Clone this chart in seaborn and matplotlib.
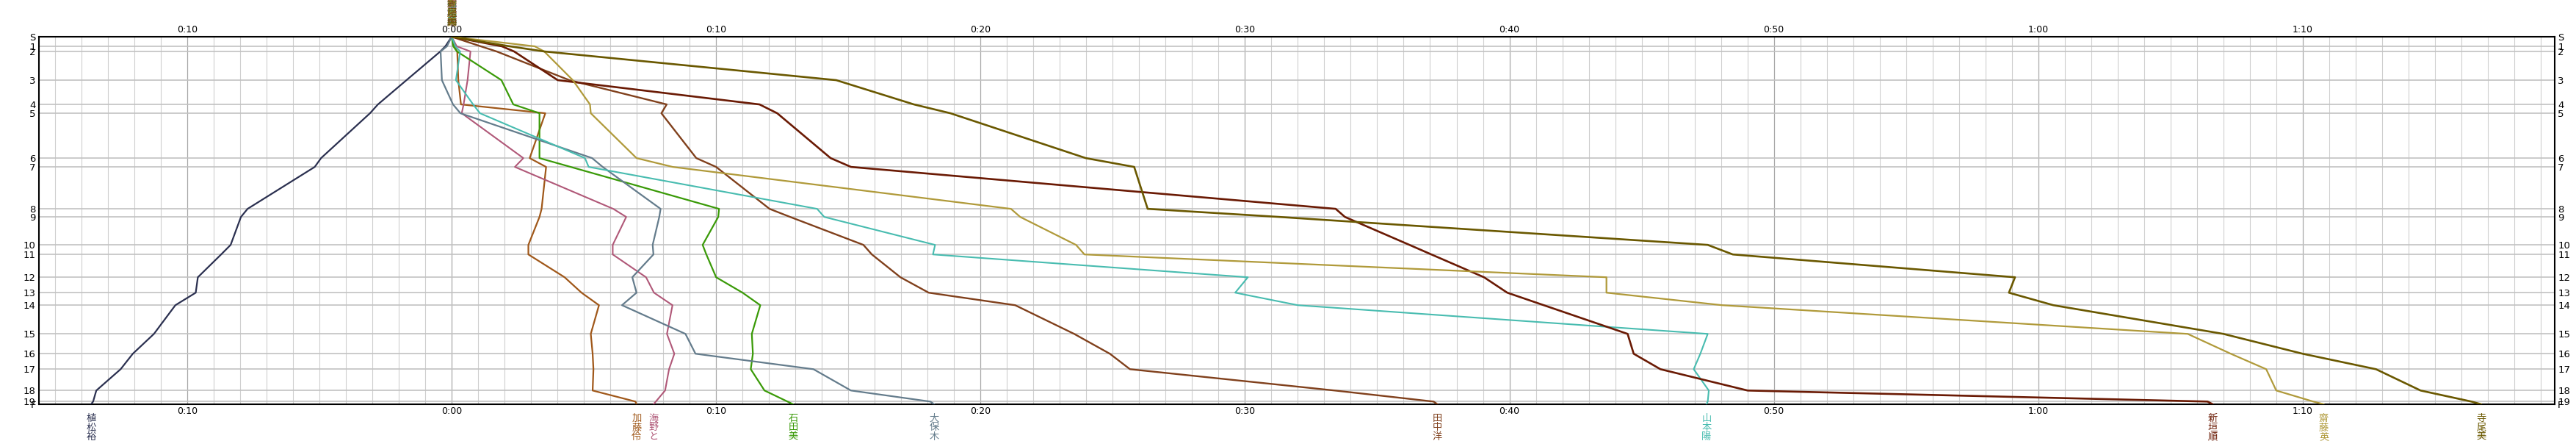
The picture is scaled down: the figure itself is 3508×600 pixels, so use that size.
import matplotlib
matplotlib.use("Agg")
import matplotlib.pyplot as plt
import matplotlib.transforms as mtransforms
import seaborn as sns
import pandas as pd

# ---- data ----
stations = ["S"] + [str(i) for i in range(1, 20)] + ["F"]
control_pos = [0, 39, 60, 177, 276, 312, 495, 531, 702, 735, 849, 888,
               981, 1044, 1095, 1212, 1293, 1356, 1443, 1488, 1499]

runners = ["植松裕", "加藤伶", "海野と", "石田美", "大保木",
           "田中洋", "山本陽", "新垣順", "齋藤英", "寺尾美"]

t_uematsu = [0, -0.24, -0.43, -1.71, -2.79, -3.09, -4.94, -5.18, -7.72, -7.97, -8.36,
             -8.72, -9.60, -9.68, -10.45, -11.26, -12.06, -12.52, -13.44, -13.56, -13.64]
t_kato = [0, 0.10, 0.21, 0.25, 0.35, 3.54, 2.95, 3.57, 3.40, 3.32, 2.90,
          2.90, 4.27, 4.91, 5.57, 5.26, 5.33, 5.36, 5.33, 6.95, 6.99]
t_unno = [0, 0.19, 0.71, 0.60, 0.45, 0.38, 2.71, 2.39, 6.11, 6.60, 6.09,
          6.09, 7.35, 7.65, 8.35, 8.14, 8.42, 8.22, 8.07, 7.72, 7.63]
t_ishida = [0, 0.06, 0.20, 1.88, 2.33, 3.32, 3.32, 4.50, 10.11, 10.08, 9.49,
            9.63, 10.00, 11.00, 11.67, 11.35, 11.39, 11.31, 11.83, 12.70, 12.91]
t_okubo = [0, -0.18, -0.42, -0.37, 0.05, 0.33, 5.31, 5.71, 7.90, 7.85, 7.60,
           7.63, 6.83, 6.99, 6.44, 8.84, 9.22, 13.68, 15.10, 18.10, 18.25]
t_tanaka = [0, 1.10, 1.70, 4.45, 8.13, 7.93, 9.25, 10.00, 12.02, 12.80, 15.57,
            15.89, 16.97, 18.04, 21.31, 23.54, 24.89, 25.65, 33.40, 37.13, 37.28]
t_yamamoto = [0, 0.14, 0.32, 0.16, 0.81, 1.07, 5.04, 5.18, 13.82, 14.09, 18.28,
              18.20, 30.11, 29.63, 32.00, 47.50, 47.22, 46.97, 47.54, 47.50, 47.45]
t_niigaki = [0, 1.90, 2.36, 4.01, 11.64, 12.31, 14.33, 15.10, 33.43, 33.78, 36.22,
             37.05, 39.04, 39.92, 41.30, 44.47, 44.70, 45.71, 49.01, 66.40, 66.60]
t_saito = [0, 3.14, 3.50, 4.58, 5.23, 5.26, 6.99, 8.36, 21.15, 21.50, 23.61,
           23.93, 43.67, 43.67, 48.05, 65.65, 67.28, 68.62, 69.00, 70.40, 70.80]
t_terao = [0, 2.20, 3.50, 14.54, 17.48, 18.86, 23.98, 25.81, 26.32, 31.30, 47.50,
           48.45, 59.12, 58.89, 60.57, 67.00, 70.00, 72.77, 74.46, 76.38, 76.75]

times = [t_uematsu, t_kato, t_unno, t_ishida, t_okubo,
         t_tanaka, t_yamamoto, t_niigaki, t_saito, t_terao]

colors = ["#2b3050", "#a0581a", "#b05878", "#3a9a08", "#647c8c",
          "#80401c", "#48bcb0", "#6a1a04", "#b09a3a", "#6a5800"]
widths = [1.6, 1.6, 1.5, 1.6, 1.6, 1.7, 1.5, 1.9, 1.6, 1.9]

xticks = [-10, 0, 10, 20, 30, 40, 50, 60, 70]

# ---- figure ----
sns.set_theme(style="white")
plt.rcParams["font.family"] = ["DejaVu Sans", "Noto Sans CJK JP"]

fig = plt.figure(figsize=(35.08, 6.0), dpi=100)
ax = fig.add_axes([53 / 3508, 50 / 600, (3479 - 53) / 3508, 500 / 600])

rows = []
for name, ts in zip(runners, times):
    for st, pos, t in zip(stations, control_pos, ts):
        rows.append({"runner": name, "station": st, "pos": pos, "time": t})
df = pd.DataFrame(rows)

for name, col, lw in zip(runners, colors, widths):
    sub = df[df["runner"] == name]
    sns.lineplot(data=sub, x="time", y="pos", sort=False, estimator=None,
                 color=col, lw=lw, ax=ax, legend=False, zorder=3)

ax.set_xlim(-15.61, 79.53)
ax.set_ylim(control_pos[-1], control_pos[0])

ax.set_xticks(xticks)
ax.set_xticklabels([f"{abs(v)//60}:{abs(v)%60:02d}" for v in xticks])
ax.set_xticks(range(-15, 80), minor=True)
ax.set_yticks(control_pos)
ax.set_yticklabels(stations)

ax.grid(which="minor", axis="x", color="#cfcfcf", lw=0.8, zorder=0)
ax.grid(which="major", axis="x", color="#a8a8a8", lw=0.9, zorder=0)
ax.grid(which="major", axis="y", color="#c2c2c2", lw=1.2, zorder=0)
ax.set_axisbelow(True)

ax.tick_params(axis="x", which="both", length=0, labeltop=True, labelbottom=True,
               labelsize=9, pad=2, colors="black")
ax.tick_params(axis="y", which="both", length=0, labelleft=True, labelright=True,
               labelsize=9.5, pad=3, colors="black")
ax.set_xlabel("")
ax.set_ylabel("")
for sp in ax.spines.values():
    sp.set_color("black")
    sp.set_linewidth(1.5)

# runner names below the chart at finish time (vertical)
trans = mtransforms.blended_transform_factory(ax.transData, ax.transAxes)
for name, ts, col in zip(runners, times, colors):
    ax.text(ts[-1], -0.026, "\n".join(name), transform=trans, ha="center", va="top",
            color=col, fontsize=9.5, linespacing=0.95,
            family=["Noto Sans CJK JP", "DejaVu Sans"], clip_on=False)

# overlapping names at start (top)
for name, col in zip(runners, colors):
    ax.text(0, 1.026, "\n".join(name), transform=trans, ha="center", va="bottom",
            color=col, fontsize=9.5, linespacing=0.95, alpha=0.85,
            family=["Noto Sans CJK JP", "DejaVu Sans"], clip_on=False)

fig.savefig("out.png", dpi=100)
